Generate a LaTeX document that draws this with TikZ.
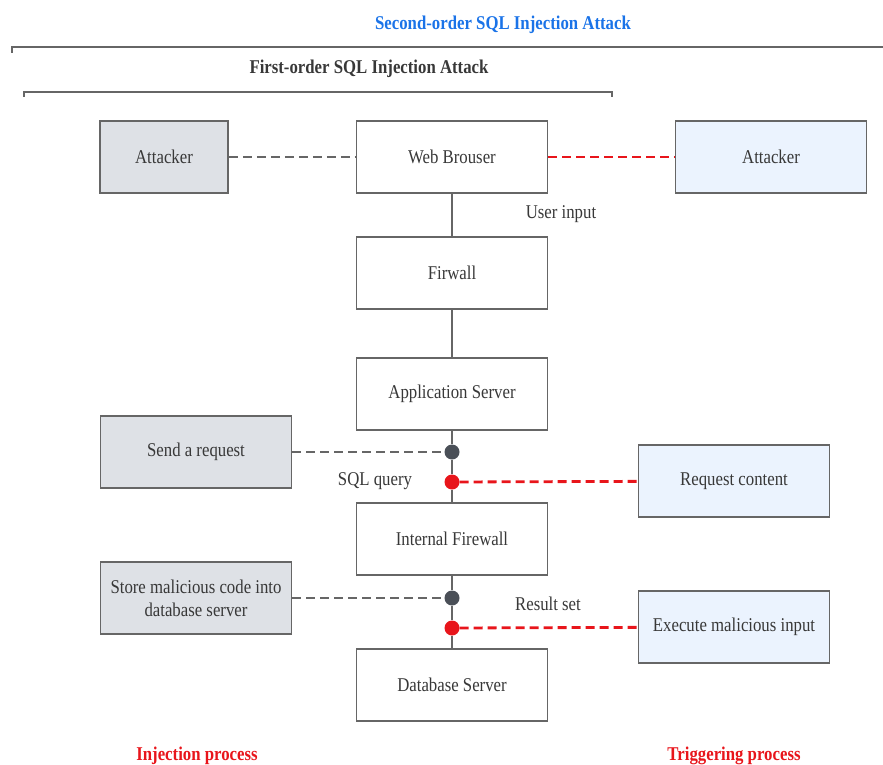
\documentclass[tikz,border=0pt]{standalone}
\usepackage{fontspec}
\setmainfont{Liberation Serif}[FakeStretch=0.86]
\usetikzlibrary{positioning}
\definecolor{ink}{HTML}{383838}
\definecolor{edge}{HTML}{666666}
\definecolor{greyfill}{HTML}{DEE1E6}
\definecolor{bluefill}{HTML}{EBF3FE}
\definecolor{red}{HTML}{E8151B}
\definecolor{blue}{HTML}{1A73E8}
\definecolor{dot}{HTML}{4A4F57}

\begin{document}
\begin{tikzpicture}[x=1pt,y=-1pt,every node/.style={font=\fontsize{19.5}{23}\selectfont,text=ink},box/.style={draw=edge,line width=1.6pt,minimum width=191pt,minimum height=72pt,align=center,inner sep=2pt},grey/.style={box,fill=greyfill},blue box/.style={box,fill=bluefill},pin/.style={circle,fill=#1,minimum size=15pt,inner sep=0pt},link/.style={dashed,dash pattern=on 9pt off 5pt,line width=2.8pt},head/.style={font=\fontsize{19.5}{23}\selectfont\bfseries}]
\path[use as bounding box] (0,0) rectangle (883,765);

\node[head,text=blue] (second) at (503,25) {Second-order SQL Injection Attack};
\draw[edge,line width=2pt] (12,53)--(12,47)--(883,47);
\node[head] (first) at (369,69) {First-order SQL Injection Attack};
\draw[edge,line width=1.5pt] (24,97)--(24,92)--(612,92)--(612,97);

\node[grey,minimum width=128pt] (att1) at (164,157) {Attacker};
\node[box] (wb) at (452,157) {Web Brouser};
\node[blue box] (att2) at (771,157) {Attacker};
\node[box] (fw) at (452,273) {Firwall};
\node[box] (app) at (452,394) {Application Server};
\node[grey] (req) at (196,452) {Send a request};
\node[blue box] (cont) at (734,481) {Request content};
\node[box] (ifw) at (452,539) {Internal Firewall};
\node[grey] (store) at (196,598) {Store malicious code into\\database server};
\node[blue box] (exec) at (734,627) {Execute malicious input};
\node[box] (db) at (452,685) {Database Server};

\node[pin=dot] (d1) at (452,452) {};
\node[pin=red] (d2) at (452,482) {};
\node[pin=dot] (d3) at (452,598) {};
\node[pin=red] (d4) at (452,628) {};

\draw[edge,line width=2pt] (wb)--(fw)--(app)--(d1)--(d2)--(ifw)--(d3)--(d4)--(db);

\draw[link,edge] (att1)--(wb);
\draw[link,red] (wb)--(att2);
\draw[link,edge] (req)--(d1);
\draw[link,red] (d2)--(cont);
\draw[link,edge] (store)--(d3);
\draw[link,red] (d4)--(exec);

\node (user) at (561,214) {User input};
\node (sql) at (375,481) {SQL query};
\node (res) at (548,604) {Result set};

\node[head,text=red] (inj) at (197,756) {Injection process};
\node[head,text=red] (trig) at (734,756) {Triggering process};

\end{tikzpicture}
\end{document}
